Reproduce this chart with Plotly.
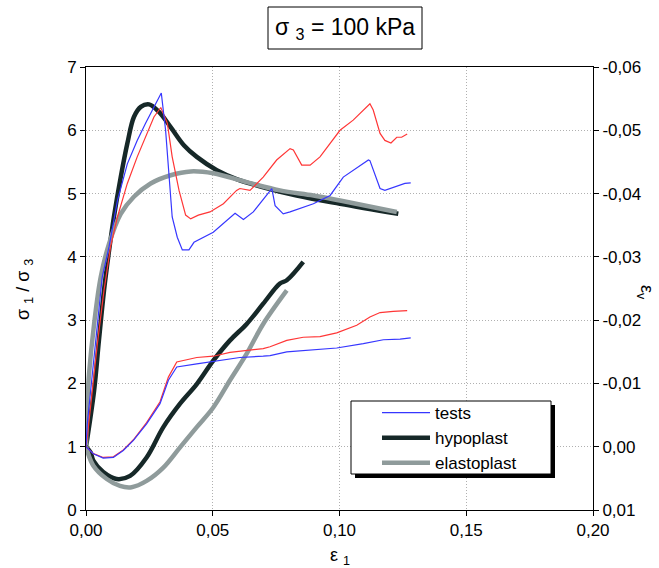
import plotly.graph_objects as go

# ---------------- data ----------------
# stress ratio sigma1/sigma3 vs eps1 (left axis)
blue_s_x = [0, 0.0005, 0.0025, 0.0045, 0.0064, 0.0091, 0.0124, 0.0163, 0.0202, 0.0235, 0.0262, 0.0297,
            0.0314, 0.0327, 0.034, 0.036, 0.038, 0.0406, 0.0426, 0.0502, 0.0588, 0.0621, 0.066, 0.0733,
            0.0746, 0.0778, 0.0805, 0.0897, 0.0963, 0.1015, 0.1054, 0.1114, 0.112, 0.116, 0.1179, 0.1226,
            0.1258, 0.1281]
blue_s_y = [1.0, 1.36, 2.15, 2.94, 3.68, 4.16, 4.89, 5.47, 5.84, 6.11, 6.32, 6.59,
            6.00, 5.32, 4.63, 4.31, 4.11, 4.11, 4.23, 4.39, 4.69, 4.59, 4.71, 5.08,
            4.81, 4.68, 4.71, 4.84, 4.97, 5.26, 5.37, 5.53, 5.52, 5.08, 5.05, 5.12,
            5.16, 5.17]

red_s_x = [0, 0.0005, 0.0025, 0.0045, 0.0071, 0.0097, 0.0124, 0.0163, 0.0202, 0.0235, 0.0268, 0.0295,
           0.0321, 0.034, 0.0367, 0.0393, 0.0413, 0.0443, 0.0489, 0.0542, 0.0594, 0.0607, 0.0647, 0.0699,
           0.0752, 0.0805, 0.0818, 0.0851, 0.0884, 0.0923, 0.1002, 0.1054, 0.1114, 0.112, 0.1133, 0.116,
           0.1179, 0.1203, 0.1226, 0.1245, 0.1267]
red_s_y = [1.0, 1.15, 1.89, 2.63, 3.47, 4.16, 4.63, 5.16, 5.58, 5.90, 6.21, 6.36,
           6.11, 5.58, 5.05, 4.66, 4.60, 4.66, 4.71, 4.84, 5.05, 5.08, 5.05, 5.26,
           5.53, 5.71, 5.69, 5.45, 5.45, 5.58, 6.00, 6.16, 6.41, 6.42, 6.32, 5.95,
           5.84, 5.80, 5.89, 5.89, 5.94]

hypo_s_x = [0, 0.0032, 0.0051, 0.0071, 0.0091, 0.011, 0.0137, 0.0163, 0.0189, 0.0216, 0.0249, 0.0288,
            0.0334, 0.0387, 0.0437, 0.0516, 0.0594, 0.0699, 0.0831, 0.1002, 0.1232]
hypo_s_y = [1.0, 1.89, 2.68, 3.47, 4.10, 4.63, 5.26, 5.79, 6.21, 6.37, 6.41, 6.29,
            6.05, 5.76, 5.58, 5.37, 5.23, 5.10, 4.97, 4.84, 4.68]

elasto_s_x = [0, 0.0004, 0.0012, 0.0032, 0.0058, 0.0091, 0.0137, 0.0189, 0.0255, 0.0334, 0.0413,
              0.0502, 0.0634, 0.0765, 0.0897, 0.1002, 0.1226]
elasto_s_y = [1.0, 1.6, 2.15, 2.94, 3.68, 4.21, 4.68, 4.95, 5.16, 5.29, 5.35,
              5.32, 5.18, 5.05, 4.97, 4.89, 4.71]

# volumetric strain eps_v vs eps1 (right axis, reversed)
blue_v_x = [0, 0.0029, 0.0068, 0.0108, 0.0147, 0.0187, 0.0239, 0.0292, 0.0325, 0.0358, 0.0437, 0.0502,
            0.0607, 0.0699, 0.0726, 0.0792, 0.0857, 0.0989, 0.1094, 0.1173, 0.1239, 0.1281]
blue_v_y = [0.0, 0.0011, 0.0018, 0.0017, 0.0006, -0.0010, -0.0036, -0.0068, -0.0105, -0.0126, -0.0131, -0.0135,
            -0.0141, -0.0143, -0.0144, -0.0150, -0.0152, -0.0156, -0.0163, -0.0169, -0.0170, -0.0172]

red_v_x = [0, 0.0029, 0.0068, 0.0108, 0.0147, 0.0187, 0.0239, 0.0292, 0.0325, 0.0358, 0.0437, 0.0502,
           0.0568, 0.0634, 0.0699, 0.0726, 0.0792, 0.0857, 0.0923, 0.0989, 0.1068, 0.112, 0.116, 0.1212, 0.1267]
red_v_y = [0.0, 0.0011, 0.0017, 0.0016, 0.0005, -0.0011, -0.0038, -0.0071, -0.0110, -0.0134, -0.0141, -0.0143,
           -0.0149, -0.0152, -0.0155, -0.0158, -0.0168, -0.0173, -0.0174, -0.0180, -0.0192, -0.0205, -0.0212, -0.0214, -0.0215]

hypo_v_x = [0, 0.0018, 0.0029, 0.0068, 0.0121, 0.0174, 0.0239, 0.0305, 0.0371, 0.0437, 0.0502, 0.0568,
            0.0634, 0.0699, 0.0765, 0.0792, 0.0857]
hypo_v_y = [0.0, 0.0009, 0.0022, 0.0040, 0.0051, 0.0046, 0.0017, -0.0031, -0.0068, -0.0099, -0.0136, -0.0168,
            -0.0194, -0.0226, -0.0258, -0.0263, -0.0292]

elasto_v_x = [0, 0.0029, 0.0082, 0.0134, 0.018, 0.0239, 0.0305, 0.0371, 0.0437, 0.0502, 0.0568, 0.0634,
              0.0699, 0.0792]
elasto_v_y = [0.0, 0.0030, 0.0051, 0.0062, 0.0064, 0.0054, 0.0033, 0.0001, -0.0031, -0.0062, -0.0105, -0.0147,
              -0.0194, -0.0247]

x_ticks = [0, 0.05, 0.10, 0.15, 0.20]
x_ticktext = ["0,00", "0,05", "0,10", "0,15", "0,20"]
y_ticks = [0, 1, 2, 3, 4, 5, 6, 7]
y2_ticks = [0.01, 0.0, -0.01, -0.02, -0.03, -0.04, -0.05, -0.06]
y2_ticktext = ["0,01", "0,00", "-0,01", "-0,02", "-0,03", "-0,04", "-0,05", "-0,06"]

# ---------------- style ----------------
FONT = "Liberation Sans, Arial, sans-serif"
C_BLUE = "#3636ff"
C_RED = "#ff3636"
C_HYPO = "#162828"
C_ELASTO = "#8f9b9b"

W, H = 659, 568
ML, MR, MT, MB = 86, 66, 67, 58
PW, PH = W - ML - MR, H - MT - MB


def px(xp):
    return (xp - ML) / PW


def py(yp):
    return (H - MB - yp) / PH


fig = go.Figure()

fig.add_trace(go.Scatter(x=hypo_s_x, y=hypo_s_y, mode="lines", name="hypoplast",
                         line=dict(color=C_HYPO, width=4.5, shape="spline"), legendrank=2))
fig.add_trace(go.Scatter(x=elasto_s_x, y=elasto_s_y, mode="lines", name="elastoplast",
                         line=dict(color=C_ELASTO, width=4.5, shape="spline"), legendrank=3))
fig.add_trace(go.Scatter(x=red_s_x, y=red_s_y, mode="lines", name="tests red", showlegend=False,
                         line=dict(color=C_RED, width=1.2)))
fig.add_trace(go.Scatter(x=blue_s_x, y=blue_s_y, mode="lines", name="tests",
                         line=dict(color=C_BLUE, width=1.2), legendrank=1))

fig.add_trace(go.Scatter(x=hypo_v_x, y=hypo_v_y, mode="lines", yaxis="y2", showlegend=False,
                         line=dict(color=C_HYPO, width=4.5, shape="spline")))
fig.add_trace(go.Scatter(x=elasto_v_x, y=elasto_v_y, mode="lines", yaxis="y2", showlegend=False,
                         line=dict(color=C_ELASTO, width=4.5, shape="spline")))
fig.add_trace(go.Scatter(x=red_v_x, y=red_v_y, mode="lines", yaxis="y2", showlegend=False,
                         line=dict(color=C_RED, width=1.2)))
fig.add_trace(go.Scatter(x=blue_v_x, y=blue_v_y, mode="lines", yaxis="y2", showlegend=False,
                         line=dict(color=C_BLUE, width=1.2)))

grid = dict(showgrid=True, gridcolor="#b0b0b0", griddash="1px,2px", gridwidth=1)

fig.update_layout(
    width=W, height=H,
    margin=dict(l=ML, r=MR, t=MT, b=MB, pad=0),
    paper_bgcolor="white", plot_bgcolor="white",
    font=dict(family=FONT, size=17, color="black"),
    xaxis=dict(range=[0, 0.2], tickvals=x_ticks, ticktext=x_ticktext, ticks="outside", ticklen=5,
               tickcolor="black", showline=True, linecolor="black", linewidth=1, mirror=True,
               zeroline=False, **grid),
    yaxis=dict(range=[0, 7], tickvals=y_ticks, ticks="outside", ticklen=5, tickcolor="black",
               showline=True, linecolor="black", linewidth=1, zeroline=False, **grid),
    yaxis2=dict(range=[0.01, -0.06], tickvals=y2_ticks, ticktext=y2_ticktext, overlaying="y",
                side="right", ticks="outside", ticklen=5, tickcolor="black", showline=True,
                linecolor="black", linewidth=1, showgrid=False, zeroline=False),
    showlegend=True,
    legend=dict(x=px(377), y=py(395), xanchor="left", yanchor="top", bgcolor="rgba(0,0,0,0)",
                borderwidth=0, font=dict(size=17, family=FONT), itemwidth=48, tracegroupgap=0),
)

# legend frame with shadow
fig.add_shape(type="rect", xref="paper", yref="paper", x0=px(355), x1=px(555), y0=py(478), y1=py(405),
              fillcolor="black", line=dict(width=0), layer="above")
fig.add_shape(type="rect", xref="paper", yref="paper", x0=px(351), x1=px(551), y0=py(474), y1=py(401),
              fillcolor="white", line=dict(color="black", width=1), layer="above")

# title box
fig.add_shape(type="rect", xref="paper", yref="paper", x0=px(268), x1=px(422), y0=py(49), y1=py(7),
              fillcolor="white", line=dict(color="black", width=1), layer="above")
fig.add_annotation(text="σ <sub>3</sub> = 100 kPa", xref="paper", yref="paper", x=px(345), y=py(29),
                   xanchor="center", yanchor="middle", showarrow=False, font=dict(size=23, family=FONT))

# axis titles
fig.add_annotation(text="σ <sub>1</sub> / σ <sub>3</sub>", xref="paper", yref="paper", x=px(24), y=py(290),
                   xanchor="center", yanchor="middle", showarrow=False, textangle=-90,
                   font=dict(size=18, family=FONT))
fig.add_annotation(text="ε <sub>1</sub>", xref="paper", yref="paper", x=px(340), y=py(556),
                   xanchor="center", yanchor="middle", showarrow=False, font=dict(size=18, family=FONT))
fig.add_annotation(text="ε<sub>v</sub>", xref="paper", yref="paper", x=px(646), y=py(292),
                   xanchor="center", yanchor="middle", showarrow=False, textangle=90,
                   font=dict(size=18, family=FONT))

fig.write_html("out.html", config={"displayModeBar": False},
               post_script="document.body.style.margin='0px';document.body.style.overflow='hidden';")
